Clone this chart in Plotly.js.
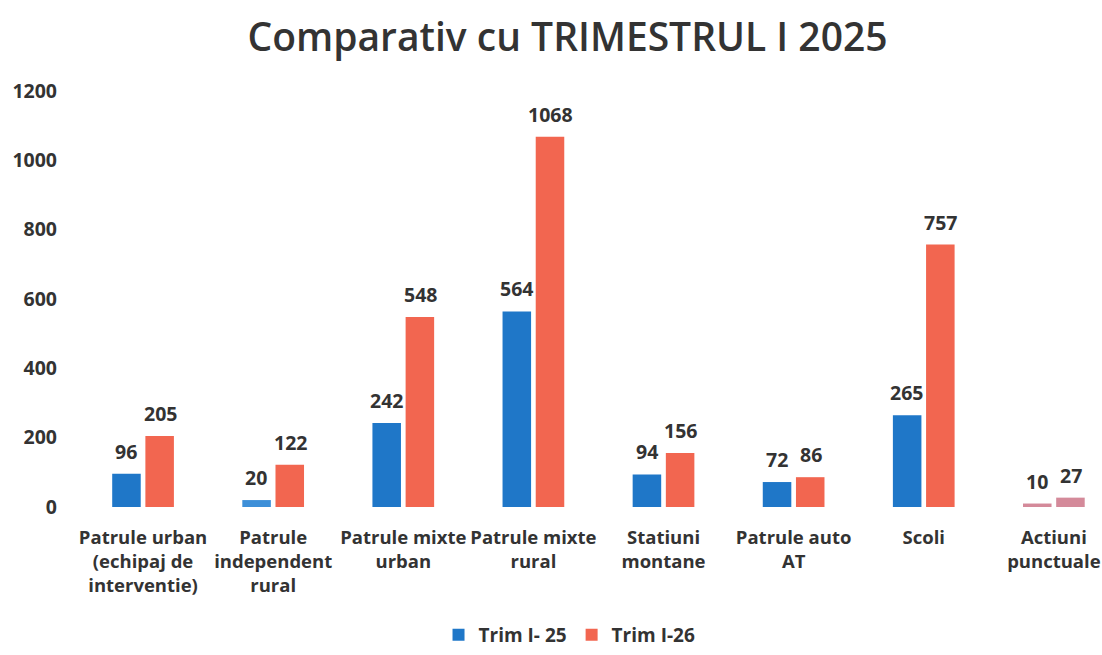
<!DOCTYPE html>
<html>
<head>
<meta charset="utf-8">
<script src="https://cdn.plot.ly/plotly-3.0.1.min.js"></script>
<style>html,body{margin:0;padding:0;background:#fff;}#chart{width:1102px;height:655px;}</style>
</head>
<body>
<div id="chart"></div>
<script>
const categories = [
  "Patrule urban<br>(echipaj de<br>interventie)",
  "Patrule<br>independent<br>rural",
  "Patrule mixte<br>urban",
  "Patrule mixte<br>rural",
  "Statiuni<br>montane",
  "Patrule auto<br>AT",
  "Scoli",
  "Actiuni<br>punctuale"
];
const trim25 = [96, 20, 242, 564, 94, 72, 265, 10];
const trim26 = [205, 122, 548, 1068, 156, 86, 757, 27];
const seriesNames = ["Trim I- 25", "Trim I-26"];
const yTicks = [0, 200, 400, 600, 800, 1000, 1200];

const blue = "#1f77c8", orange = "#f26650", pink = "#d48a9a";
const col25 = categories.map((c, i) => i === 7 ? pink : (i === 1 ? "#3d8fd8" : blue));
const col26 = categories.map((c, i) => i === 7 ? pink : orange);

const font = "'Open Sans', 'Noto Sans', sans-serif";
const labelFont = {family: font, size: 19.5, color: "#333", weight: 700};
const traces = [
  {type: "bar", name: seriesNames[0], x: categories, y: trim25, marker: {color: col25}},
  {type: "bar", name: seriesNames[1], x: categories, y: trim26, marker: {color: col26}}
];
const annotations = [];
[trim25, trim26].forEach((vals, s) => {
  vals.forEach((v, i) => {
    annotations.push({x: categories[i], y: v, xref: "x", yref: "y", text: String(v),
      showarrow: false, xanchor: "center", yanchor: "bottom", xshift: s === 0 ? -17 : 17, yshift: 7,
      font: labelFont});
  });
});
const layout = {
  width: 1102, height: 655,
  margin: {l: 78, r: 0, t: 91, b: 148, autoexpand: false},
  paper_bgcolor: "#fff", plot_bgcolor: "#fff",
  title: {text: "Comparativ cu TRIMESTRUL I 2025", x: 0.515, xanchor: "center", y: 0.943, yanchor: "middle",
          font: {family: font, size: 39, color: "#333", weight: 600}},
  barmode: "group", bargap: 0.49, bargroupgap: 0.14,
  annotations: annotations,
  xaxis: {type: "category", range: [-0.5, 7.37], showgrid: false, showline: false, zeroline: false, automargin: false,
          ticks: "", ticklabelstandoff: 17, tickfont: {family: font, size: 18.5, color: "#333", weight: 700}, tickangle: 0},
  yaxis: {range: [0, 1200], tickvals: yTicks, ticktext: yTicks.map(String), showgrid: false, zeroline: false,
          showline: false, ticks: "", ticklabelstandoff: 20, automargin: false,
          tickfont: {family: font, size: 19.5, color: "#333", weight: 700}},
  legend: {orientation: "h", x: 0.48, xanchor: "center", y: -0.353, yanchor: "bottom",
           font: {family: font, size: 19, color: "#333", weight: 700}, itemwidth: 30},
  showlegend: true
};
Plotly.newPlot("chart", traces, layout, {displayModeBar: false, staticPlot: true});
</script>
</body>
</html>
